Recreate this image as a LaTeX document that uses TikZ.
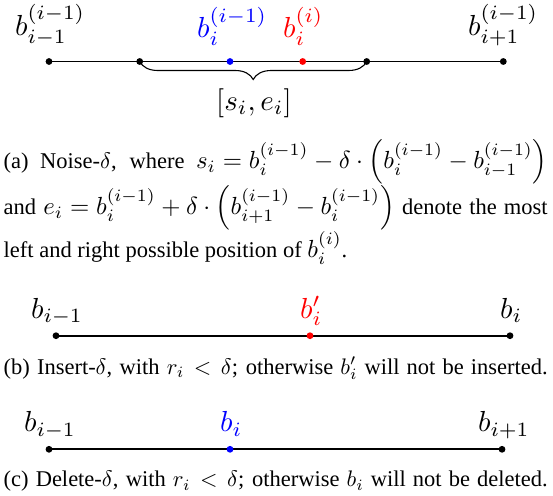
\documentclass[tikz,border=0pt]{standalone}
\usepackage{graphicx}
\usepackage{fontspec}
\setmainfont{Liberation Serif}
\usetikzlibrary{decorations.pathreplacing}
\tikzset{
  dotnode/.style={circle, fill=#1, inner sep=0pt, minimum size=6.8pt},
  dotnode/.default=black,
  seg/.style={line width=1.7pt},
  lbl/.style={inner sep=0pt, anchor=base west},
  captext/.style={inner sep=0pt, anchor=base west},
  bracestyle/.style={decorate, decoration={brace, amplitude=18pt, mirror}, line width=1.1pt},
}
\newcommand{\capline}[1]{\scalebox{2.25}{\hbox to 241.8pt{#1}}}
\newcommand{\capnat}[1]{\scalebox{2.25}{#1}}
\newcommand{\mbig}[1]{\scalebox{1.1}{$#1$}}
\newcommand{\lab}[1]{\scalebox{2.9}{$#1$}}
\begin{document}
\begin{tikzpicture}[x=1pt,y=-1pt]
\useasboundingbox (0,0) rectangle (553,495);
% ---------- (a) ----------
\coordinate (a1) at (49,61.5);
\coordinate (a2) at (139.7,61.5);
\coordinate (a3) at (230,61.5);
\coordinate (a4) at (302.7,61.5);
\coordinate (a5) at (366.7,61.5);
\coordinate (a6) at (503.3,61.5);
\draw[seg] (a1) -- (a6);
\node[dotnode] (d1) at (a1) {};
\node[dotnode] (d2) at (a2) {};
\node[dotnode=blue] (d3) at (a3) {};
\node[dotnode=red] (d4) at (a4) {};
\node[dotnode] (d5) at (a5) {};
\node[dotnode] (d6) at (a6) {};
\draw[bracestyle] (a2) -- (a5);
\node[lbl] (la1) at (15,35) {\lab{b_{i-1}^{(i-1)}}};
\node[lbl, text=blue] (la3) at (197,37.5) {\lab{b_{i}^{(i-1)}}};
\node[lbl, text=red] (la4) at (283,37.5) {\lab{b_{i}^{(i)}}};
\node[lbl] (la6) at (468,35) {\lab{b_{i+1}^{(i-1)}}};
\node[lbl] (lse) at (216,110) {\lab{[s_i,e_i]}};
\node[captext] (ca1) at (3.5,168.3) {\capline{(a) Noise-$\delta$, where \mbig{s_i = b_i^{(i-1)} - \delta\cdot\left(b_i^{(i-1)} - b_{i-1}^{(i-1)}\right)}}};
\node[captext] (ca2) at (3.5,214.3) {\capline{and \mbig{e_i = b_i^{(i-1)} + \delta\cdot\left(b_{i+1}^{(i-1)} - b_i^{(i-1)}\right)} denote the most}};
\node[captext] (ca3) at (3.5,257.3) {\capnat{left and right possible position of \mbig{b_i^{(i)}}.}};
% ---------- (b) ----------
\coordinate (b1) at (56,335.7);
\coordinate (b2) at (310,335.7);
\coordinate (b3) at (510,335.7);
\draw[seg] (b1) -- (b3);
\node[dotnode] (e1) at (b1) {};
\node[dotnode=red] (e2) at (b2) {};
\node[dotnode] (e3) at (b3) {};
\node[lbl] (lb1) at (31,318) {\lab{b_{i-1}}};
\node[lbl, text=red] (lb2) at (300,318) {\lab{b_i'}};
\node[lbl] (lb3) at (500,318) {\lab{b_i}};
\node[captext] (cb) at (3.5,374) {\capline{(b) Insert-$\delta$, with $r_i<\delta$; otherwise $b_i'$ will not be inserted.}};
% ---------- (c) ----------
\coordinate (c1) at (49,449.3);
\coordinate (c2) at (230,449.3);
\coordinate (c3) at (502,449.3);
\draw[seg] (c1) -- (c3);
\node[dotnode] (f1) at (c1) {};
\node[dotnode=blue] (f2) at (c2) {};
\node[dotnode] (f3) at (c3) {};
\node[lbl] (lc1) at (24,431.7) {\lab{b_{i-1}}};
\node[lbl, text=blue] (lc2) at (220,431.7) {\lab{b_i}};
\node[lbl] (lc3) at (478,431.7) {\lab{b_{i+1}}};
\node[captext] (cc) at (3.5,486.7) {\capline{(c) Delete-$\delta$, with $r_i<\delta$; otherwise $b_i$ will not be deleted.}};
\end{tikzpicture}
\end{document}
